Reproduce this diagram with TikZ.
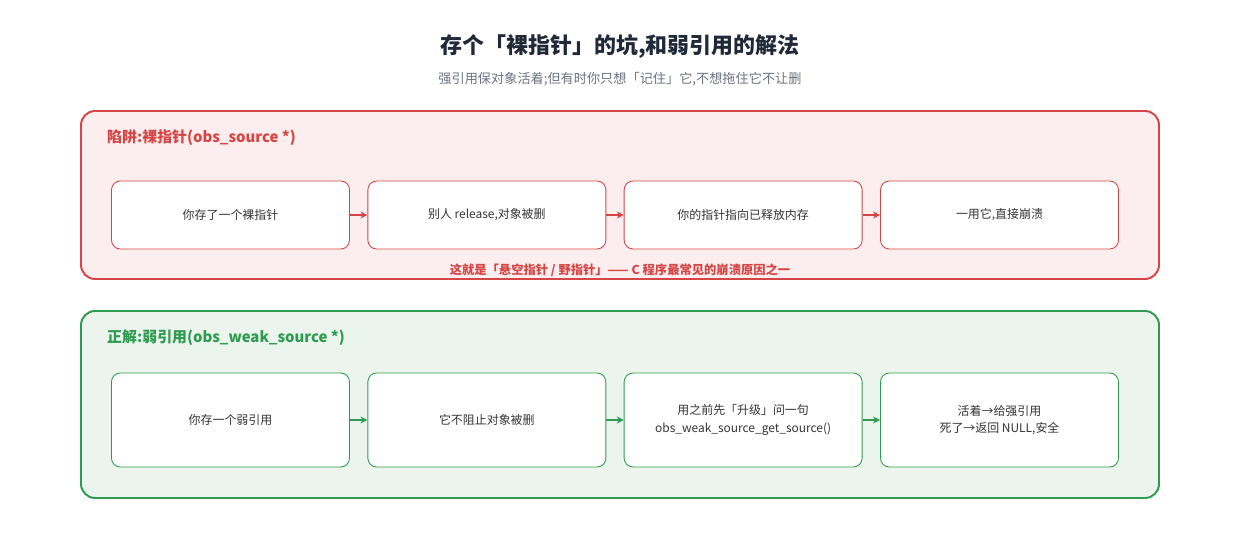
\documentclass[tikz,border=0pt]{standalone}
\usepackage{fontspec}
\setmainfont{Noto Sans CJK SC}
\usetikzlibrary{positioning,arrows.meta}
\definecolor{badline}{HTML}{D64545}
\definecolor{badfill}{HTML}{FCEEEE}
\definecolor{goodline}{HTML}{2E9B50}
\definecolor{goodfill}{HTML}{EBF5EE}
\definecolor{titlegray}{HTML}{1F2937}
\definecolor{subgray}{HTML}{6B7280}
\definecolor{textgray}{HTML}{333333}
\begin{document}
\begin{tikzpicture}[
    x=0.02cm,y=-0.02cm,
    panel/.style={
      rounded corners=8pt,line width=1.1pt
    },
    stepbox/.style={
      draw,rounded corners=5pt,fill=white,line width=0.5pt,
      minimum width=4.76cm,align=center,
      font=\fontsize{6.8}{10}\selectfont,text=textgray
    },
    badstep/.style={stepbox,draw=badline,minimum height=1.36cm},
    goodstep/.style={stepbox,draw=goodline,minimum height=1.88cm},
    flow/.style={-{Stealth[length=4pt,width=4pt]},line width=0.9pt},
    header/.style={anchor=west,font=\bfseries\fontsize{8.5}{10}\selectfont},
    node distance=0.35cm
  ]
  \useasboundingbox (0,0) rectangle (1240,540);

  % title
  \node[font=\bfseries\fontsize{12.5}{14}\selectfont,text=titlegray] (title) at (620,46) {存个「裸指针」的坑,和弱引用的解法};
  \node[font=\fontsize{7.5}{9}\selectfont,text=subgray] (subtitle) at (620,79) {强引用保对象活着;但有时你只想「记住」它,不想拖住它不让删};

  % trap
  \draw[panel,draw=badline,fill=badfill] (81,111) rectangle (1159,279);
  \node[header,text=badline] (badhead) at (101,138) {陷阱:裸指针(obs\_source *)};
  \node[badstep] (bad1) at (230.5,215) {你存了一个裸指针};
  \node[badstep,right=of bad1] (bad2) {别人 release,对象被删};
  \node[badstep,right=of bad2] (bad3) {你的指针指向已释放内存};
  \node[badstep,right=of bad3] (bad4) {一用它,直接崩溃};
  \foreach \a/\b in {bad1/bad2,bad2/bad3,bad3/bad4}
    \draw[flow,badline] (\a) -- (\b);
  \node[font=\bfseries\fontsize{7}{9}\selectfont,text=badline] (badnote) at (620,270) {这就是「悬空指针 / 野指针」—— C 程序最常见的崩溃原因之一};

  % fix
  \draw[panel,draw=goodline,fill=goodfill] (81,311) rectangle (1159,498);
  \node[header,text=goodline] (goodhead) at (101,338) {正解:弱引用(obs\_weak\_source *)};
  \node[goodstep] (good1) at (230.5,420) {你存一个弱引用};
  \node[goodstep,right=of good1] (good2) {它不阻止对象被删};
  \node[goodstep,right=of good2] (good3) {用之前先「升级」问一句\\obs\_weak\_source\_get\_source()};
  \node[goodstep,right=of good3] (good4) {活着→给强引用\\死了→返回 NULL,安全};
  \foreach \a/\b in {good1/good2,good2/good3,good3/good4}
    \draw[flow,goodline] (\a) -- (\b);
\end{tikzpicture}
\end{document}
